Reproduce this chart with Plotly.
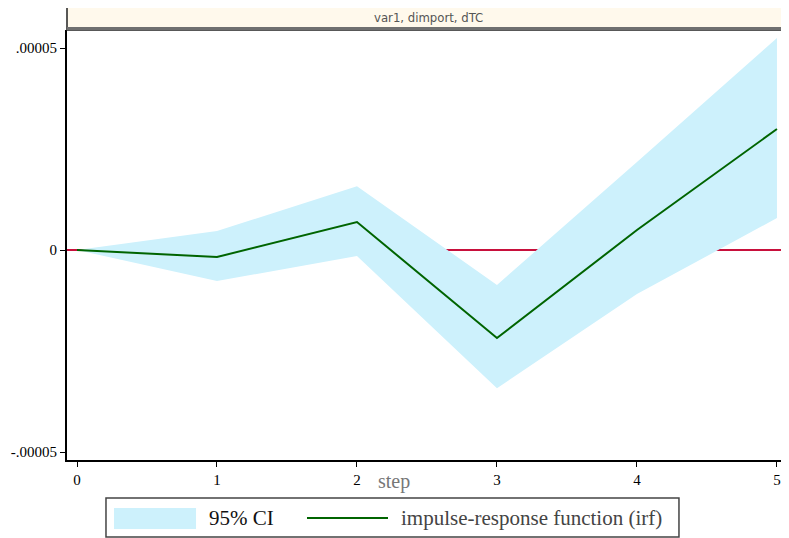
import plotly.graph_objects as go

steps = [0, 1, 2, 3, 4, 5]
irf = [0.0, -1.73e-6, 6.93e-6, -2.18e-5, 4.95e-6, 2.995e-5]
ci_upper = [0.0, 4.7e-6, 1.58e-5, -8.66e-6, 2.18e-5, 5.25e-5]
ci_lower = [0.0, -7.67e-6, -1.49e-6, -3.42e-5, -1.09e-5, 7.9e-6]
ytick_vals = [-0.00005, 0, 0.00005]
ytick_text = ["-.00005", "0", ".00005"]
panel_title = "var1, dimport, dTC"
x_title = "step"
legend_labels = ["95% CI", "impulse-response function (irf)"]

BAND = "#CDF1FC"
IRF = "#006400"
ZERO = "#C8103C"
serif = "Liberation Serif, Times New Roman, serif"

fig = go.Figure()

# CI band
fig.add_trace(go.Scatter(x=steps, y=ci_lower, mode="lines", line=dict(width=0, color=BAND),
                         showlegend=False, hoverinfo="skip"))
fig.add_trace(go.Scatter(x=steps, y=ci_upper, mode="lines", line=dict(width=0, color=BAND),
                         fill="tonexty", fillcolor=BAND, name=legend_labels[0], showlegend=False))
# IRF
fig.add_trace(go.Scatter(x=steps, y=irf, mode="lines", line=dict(color=IRF, width=2),
                         name=legend_labels[1], showlegend=False))

# zero reference line (beneath the band)
fig.add_hline(y=0, line=dict(color=ZERO, width=2), layer="below")

fig.update_layout(
    width=789, height=538,
    margin=dict(l=59, r=8, t=22, b=86),
    paper_bgcolor="white", plot_bgcolor="white",
    font=dict(family=serif, color="black", size=15),
    xaxis=dict(range=[-0.0714, 5.086], tickvals=steps, ticktext=[str(s) for s in steps],
               showline=True, linecolor="black", linewidth=2, ticks="outside", ticklen=5,
               tickcolor="black", showgrid=False, zeroline=False, automargin=False,
               tickfont=dict(family=serif, size=15)),
    yaxis=dict(range=[-5.198e-5, 5.446e-5], tickvals=ytick_vals, ticktext=ytick_text,
               showline=True, linecolor="black", linewidth=2, ticks="outside", ticklen=5,
               tickcolor="black", showgrid=False, zeroline=False, automargin=False,
               tickfont=dict(family=serif, size=15)),
    showlegend=False,
)

# header strip
fig.add_shape(type="rect", xref="paper", yref="paper", x0=0, x1=1, y0=1.0, y1=1.0558,
              fillcolor="#FFF9EC", line=dict(color="#222222", width=1.5), layer="above")
fig.add_shape(type="line", xref="paper", yref="paper", x0=0, x1=1, y0=1.0035, y1=1.0035,
              line=dict(color="#707070", width=3))
fig.add_annotation(text=panel_title, xref="paper", yref="paper", x=0.5, y=1.029,
                   showarrow=False, yanchor="middle",
                   font=dict(family="DejaVu Sans Condensed, Liberation Sans Narrow, sans-serif",
                             size=13, color="#555555"))
# axis title placed like the reference
fig.add_annotation(text=x_title, xref="x", yref="paper", x=2.264, y=-0.0490,
                   showarrow=False, yanchor="middle",
                   font=dict(family=serif, size=20, color="#777777"))

# legend box (drawn)
fig.add_shape(type="rect", xref="paper", yref="paper", x0=0.0540, x1=0.8476, y0=-0.1791, y1=-0.0884,
              line=dict(color="#444444", width=1.5), fillcolor="white")
fig.add_shape(type="rect", xref="paper", yref="paper", x0=0.0651, x1=0.1787, y0=-0.1605, y1=-0.1116,
              line=dict(width=0), fillcolor=BAND)
fig.add_annotation(text=legend_labels[0], xref="paper", yref="paper", x=0.1940, y=-0.1349,
                   xanchor="left", yanchor="middle", showarrow=False,
                   font=dict(family=serif, size=21, color="#111111"))
fig.add_shape(type="line", xref="paper", yref="paper", x0=0.3324, x1=0.4446, y0=-0.1349, y1=-0.1349,
              line=dict(color=IRF, width=2))
fig.add_annotation(text=legend_labels[1], xref="paper", yref="paper", x=0.4600, y=-0.1349,
                   xanchor="left", yanchor="middle", showarrow=False,
                   font=dict(family=serif, size=21, color="#444444"))

fig.write_html("out.html")
